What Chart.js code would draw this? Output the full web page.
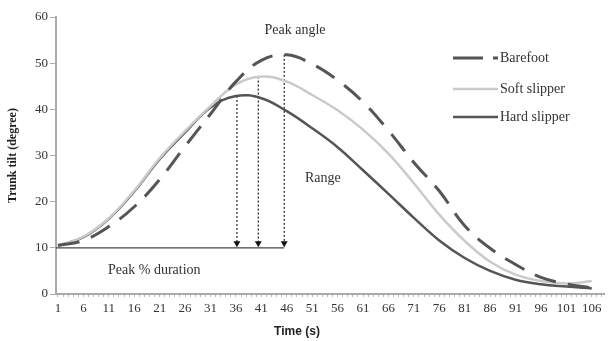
<!DOCTYPE html>
<html>
<head>
<meta charset="utf-8">
<script src="https://cdn.jsdelivr.net/npm/chart.js@4.4.1/dist/chart.umd.min.js"></script>
<style>
  html, body { margin: 0; padding: 0; background: #fff; }
  #wrap { width: 608px; height: 341px; position: relative; }
</style>
</head>
<body>
<div id="wrap"><canvas id="tiltChart"></canvas></div>
<script>
// Data
var time = [1, 6, 11, 16, 21, 26, 31, 36, 41, 46, 51, 56, 61, 66, 71, 76, 81, 86, 91, 96, 101, 106];
var barefoot = [10.5, 11.6, 14.6, 18.9, 24.8, 32.0, 39.0, 46.0, 50.6, 51.8, 49.8, 46.3, 41.6, 35.4, 28.5, 22.3, 14.8, 9.9, 6.4, 3.6, 2.2, 1.3];
var softSlipper = [10.5, 12.4, 16.4, 22.4, 29.4, 35.3, 40.7, 45.4, 47.1, 46.0, 43.1, 39.8, 35.6, 30.4, 24.0, 17.2, 11.5, 7.0, 4.2, 2.8, 2.3, 2.8];
var hardSlipper = [10.5, 12.3, 16.3, 22.2, 29.2, 35.0, 40.4, 42.9, 42.4, 39.6, 35.9, 31.8, 26.8, 21.7, 16.5, 11.6, 7.8, 5.0, 3.1, 2.1, 1.6, 1.2];
var seriesNames = ["Barefoot", "Soft slipper", "Hard slipper"];
var xTickLabels = time;
var yTicks = [0, 10, 20, 30, 40, 50, 60];

// peak markers (dotted arrows) and the 10 degree reference line
var peakTimes = [36.2, 40.4, 45.5];
var peakAngles = [42.9, 47.1, 51.8];
var baseAngle = 10;

var xMin = 0.61, xMax = 108.4;

function pts(values) {
    return time.map(function (t, i) { return { x: t, y: values[i] }; });
}

var datasets = [
    { label: seriesNames[0], data: pts(barefoot), borderColor: "#555", borderWidth: 3, borderDash: [22, 12] },
    { label: seriesNames[1], data: pts(softSlipper), borderColor: "#cacaca", borderWidth: 2.5 },
    { label: seriesNames[2], data: pts(hardSlipper), borderColor: "#555", borderWidth: 2.5 }
];
datasets.forEach(function (d) {
    d.pointRadius = 0;
    d.tension = 0.4;
    d.fill = false;
});

// arrows
peakTimes.forEach(function (t, i) {
    datasets.push({
        label: "arrow",
        data: [{ x: t, y: peakAngles[i] }, { x: t, y: baseAngle + 1 }],
        borderColor: "#222",
        borderWidth: 1.2,
        borderDash: [2, 2],
        pointRadius: [0, 4],
        pointStyle: "triangle",
        rotation: 180,
        pointBackgroundColor: "#111",
        pointBorderColor: "#111",
        pointBorderWidth: 0
    });
});
datasets.push({
    label: "base",
    data: [{ x: xMin, y: baseAngle }, { x: peakTimes[2], y: baseAngle }],
    borderColor: "#444",
    borderWidth: 1.2,
    pointRadius: 0
});

var textPlugin = {
    id: "texts",
    afterDatasetsDraw: function (chart) {
        var ctx = chart.ctx;
        ctx.save();
        ctx.fillStyle = "#333";
        ctx.textBaseline = "middle";
        ctx.font = "14px 'Liberation Serif'";
        ctx.textAlign = "center";
        ctx.fillText("Peak angle", 295, 30);
        ctx.textAlign = "left";
        ctx.fillText("Range", 305, 178);
        ctx.fillText("Peak % duration", 108, 270);

        // x axis title
        ctx.font = "bold 12px 'Liberation Sans'";
        ctx.textAlign = "center";
        ctx.fillStyle = "#222";
        ctx.fillText("Time (s)", 297, 332);

        // legend
        var rows = [58, 89, 117];
        var legendDash = [[30, 10], [], []];
        ctx.font = "14px 'Liberation Serif'";
        ctx.textAlign = "left";
        for (var i = 0; i < 3; i++) {
            var ds = chart.data.datasets[i];
            ctx.beginPath();
            ctx.setLineDash(legendDash[i]);
            ctx.strokeStyle = ds.borderColor;
            ctx.lineWidth = ds.borderWidth;
            ctx.moveTo(453, rows[i]);
            ctx.lineTo(498, rows[i]);
            ctx.stroke();
            ctx.setLineDash([]);
            ctx.fillStyle = "#333";
            ctx.fillText(ds.label, 500, rows[i]);
        }
        ctx.restore();
    }
};

Chart.defaults.font.family = "'Liberation Serif', serif";

var chart = new Chart(document.getElementById("tiltChart"), {
    type: "line",
    data: { datasets: datasets },
    options: {
        responsive: true,
        maintainAspectRatio: false,
        animation: false,
        layout: { padding: { top: 17, right: 0, left: 0, bottom: 0 } },
        plugins: {
            legend: { display: false },
            tooltip: { enabled: false }
        },
        scales: {
            x: {
                type: "linear",
                min: xMin,
                max: xMax,
                afterBuildTicks: function (s) {
                    var ticks = [];
                    for (var v = 1; v <= 108; v++) ticks.push({ value: v });
                    s.ticks = ticks;
                },
                afterFit: function (s) { s.height = 47; },
                ticks: {
                    autoSkip: false,
                    maxRotation: 0,
                    padding: 4,
                    color: "#333",
                    font: { size: 13 },
                    callback: function (v) { return xTickLabels.indexOf(v) >= 0 ? String(v) : ""; }
                },
                grid: { drawOnChartArea: false, tickLength: 3, color: "#bbb" },
                border: { color: "#aaa", width: 2 }
            },
            y: {
                min: 0,
                max: 60,
                afterBuildTicks: function (s) {
                    s.ticks = yTicks.map(function (v) { return { value: v }; });
                },
                afterFit: function (s) { s.width = 56; },
                ticks: { color: "#333", font: { size: 13 }, padding: 2 },
                grid: { drawOnChartArea: false, tickLength: 6, color: "#aaa" },
                border: { color: "#aaa", width: 2 },
                title: {
                    display: true,
                    text: "Trunk tilt (degree)",
                    color: "#222",
                    font: { size: 12, weight: "bold" },
                    padding: { top: 6, bottom: 0 }
                }
            }
        }
    },
    plugins: [textPlugin]
});
</script>
</body>
</html>
